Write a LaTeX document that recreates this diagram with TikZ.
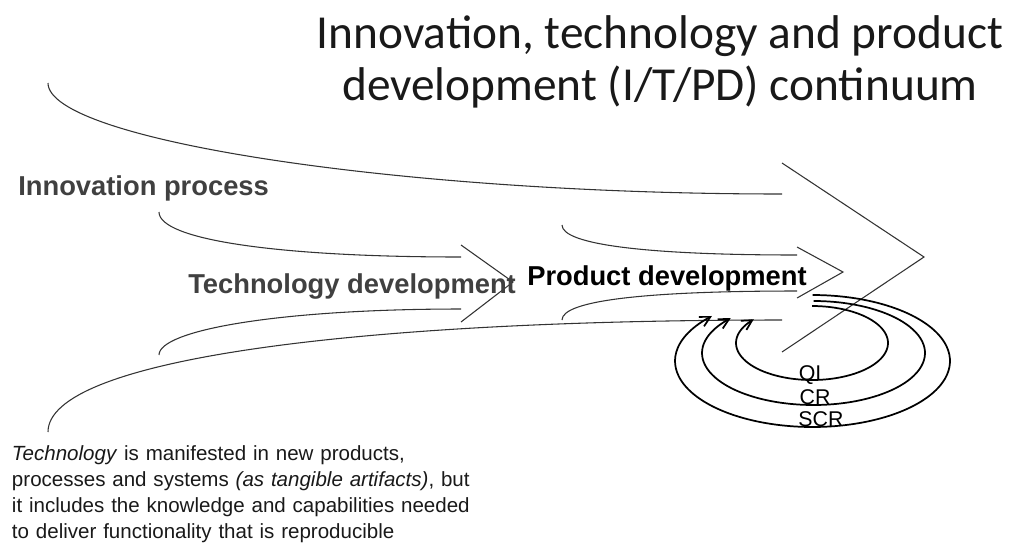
\documentclass[tikz,border=0pt]{standalone}
\usepackage{fontspec}
\setmainfont{Liberation Sans}
\newfontfamily\titlefont{Carlito}
\usetikzlibrary{arrows.meta,positioning}
\definecolor{linegray}{HTML}{333333}
\definecolor{labelgray}{HTML}{404040}
\begin{document}
\begin{tikzpicture}[x=0.75pt,y=-0.75pt,>={Straight Barb[length=7.5pt,width=8pt]},
  flow/.style={draw=linegray,line width=0.8pt},
  ring/.style={draw=black,line width=1.3pt},
  heading/.style={font=\titlefont\fontsize{35.5}{39}\selectfont,inner sep=0pt,text height=26pt,text depth=8pt,node distance=39pt,text=black!90},
  stage/.style={font=\bfseries\fontsize{20.5}{24}\selectfont,inner sep=0pt,anchor=base west},
  note/.style={font=\fontsize{15.4}{18}\selectfont,inner sep=0pt,text width=420pt,align=left,text height=11.5pt,text depth=3.5pt,node distance=19.5pt,text=black!90},
  cyc/.style={font=\fontsize{16}{19}\selectfont,inner sep=0pt,anchor=base}]
  \useasboundingbox (0,0) rectangle (1016,551);
  % title
  \node[heading] (1) at (660,36) {Innovation, technology and product};
  \node[heading] (2) [below of=1] {development (I/T/PD) continuum};
  % innovation process
  \draw[flow] (48,83) .. controls (48,140) and (400,194) .. (782,194);
  \draw[flow] (48,432) .. controls (48,360) and (350,320) .. (782,320);
  \draw[flow] (782,163) -- (924,257) -- (782,352);
  % technology development
  \draw[flow] (159,212) .. controls (159,240) and (280,257) .. (461,257);
  \draw[flow] (159,355) .. controls (159,330) and (280,309) .. (461,309);
  \draw[flow] (461,245) -- (513,282) -- (461,322);
  % product development
  \draw[flow] (562,225) .. controls (562,245) and (650,255) .. (797,255);
  \draw[flow] (562,320) .. controls (562,300) and (650,291) .. (797,291);
  \draw[flow] (797,247) -- (843,272) -- (797,298);
  \node[stage,text=labelgray] (7) at (18,195) {Innovation process};
  \node[stage,text=labelgray] (8) at (188,293) {Technology development};
  \node[stage] (9) at (527,285) {Product development};
  % improvement cycles
  \draw[ring,->] plot[domain=-90:223,samples=90,smooth] ({812.5+137.5*cos(\x)},{361+66*sin(\x)});
  \draw[ring,->] plot[domain=-90:222,samples=90,smooth] ({813.5+111.5*cos(\x)},{353+52*sin(\x)});
  \draw[ring,->] plot[domain=-90:220,samples=90,smooth] ({812+76*cos(\x)},{343+37*sin(\x)});
  \node[cyc] (10) at (810,380) {QI};
  \node[cyc] (11) at (815,404) {CR};
  \node[cyc] (12) at (821,426) {SCR};
  % note
  \node[note] (3) at (292,454.7) {\textit{Technology} is manifested in new products,};
  \node[note] (4) [below of=3] {processes and systems \textit{(as tangible artifacts)}, but};
  \node[note] (5) [below of=4] {it includes the knowledge and capabilities needed};
  \node[note] (6) [below of=5] {to deliver functionality that is reproducible};
\end{tikzpicture}
\end{document}
